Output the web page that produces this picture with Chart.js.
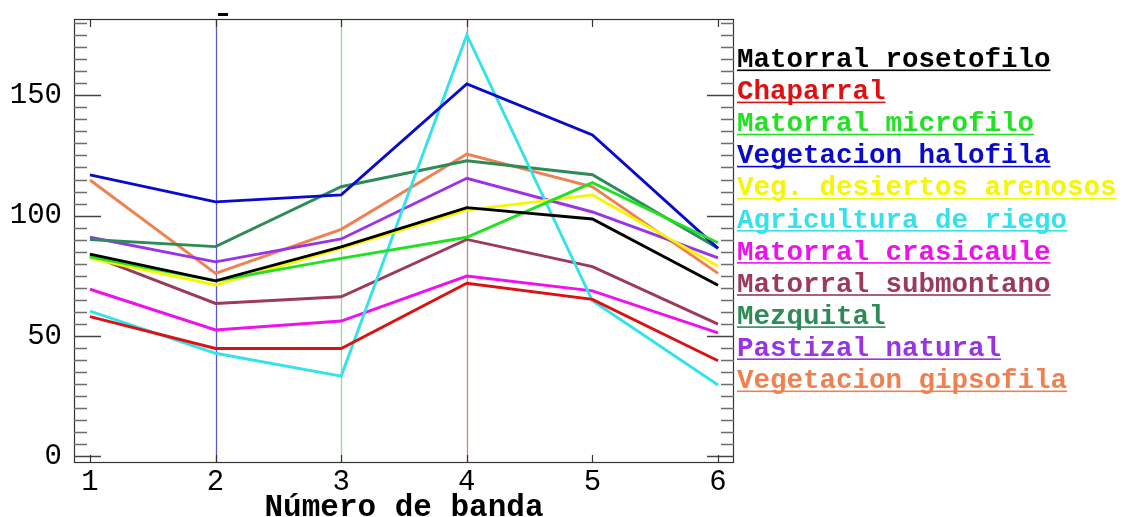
<!DOCTYPE html>
<html>
<head>
<meta charset="utf-8">
<script src="https://cdn.jsdelivr.net/npm/chart.js"></script>
<style>
  html, body { margin: 0; padding: 0; background: #fff; overflow: hidden; }
  #wrap { width: 1127px; height: 517px; position: relative; }
</style>
</head>
<body>
<div id="wrap"><canvas id="chart" width="1127" height="517"></canvas></div>
<script>
// bands on the x axis
const bands = [1, 2, 3, 4, 5, 6];

// one array per land cover class
const rosetofilo  = [84.0, 72.9, 87.0, 103.3, 98.6, 71.1];
const chaparral   = [58.0, 44.8, 44.8, 71.9, 65.2, 39.7];
const microfilo   = [82.9, 72.9, 82.2, 91.0, 113.7, 88.7];
const halofila    = [116.9, 105.7, 108.6, 154.7, 133.5, 86.4];
const arenosos    = [82.2, 71.2, 86.4, 102.3, 108.6, 79.0];
const riego       = [60.3, 42.8, 33.3, 175.1, 64.6, 29.6];
const crasicaule  = [69.4, 52.5, 56.2, 74.9, 68.7, 51.3];
const submontano  = [83.6, 63.5, 66.3, 90.1, 78.8, 54.9];
const mezquital   = [90.1, 87.1, 112.0, 122.8, 117.0, 86.4];
const pastizal    = [91.0, 80.8, 90.3, 115.5, 101.5, 82.4];
const gipsofila   = [114.8, 76.0, 94.3, 125.6, 112.0, 76.0];

const classNames = [
  'Matorral rosetofilo', 'Chaparral', 'Matorral microfilo', 'Vegetacion halofila',
  'Veg. desiertos arenosos', 'Agricultura de riego', 'Matorral crasicaule',
  'Matorral submontano', 'Mezquital', 'Pastizal natural', 'Vegetacion gipsofila'
];
const classValues = [rosetofilo, chaparral, microfilo, halofila, arenosos, riego,
  crasicaule, submontano, mezquital, pastizal, gipsofila];
const classColors = ['#000000', '#dd1111', '#22e022', '#0a0acc', '#f6f600', '#33e2ea',
  '#ee11ee', '#9b3a5a', '#2e8b57', '#9933e6', '#f0804f'];

const yTickLabels = [0, 50, 100, 150];
const yMinorStep = 5;
const yMinorTop = 180;
const markerBands = [2, 3, 4];
const markerColors = ['#5a5ac8', '#8ce08c', '#e07a7a'];

const datasets = classNames.map((name, i) => ({
  label: name,
  data: bands.map((b, j) => ({ x: b, y: classValues[i][j] })),
  borderColor: classColors[i],
  backgroundColor: classColors[i],
  borderWidth: 2.9,
  pointRadius: 0,
  tension: 0,
  fill: false
}));

const decorations = {
  id: 'decorations',
  beforeDatasetsDraw(chart) {
    const { ctx, chartArea: a, scales: { x } } = chart;
    ctx.save();
    markerBands.forEach((b, i) => {
      const px = Math.round(x.getPixelForValue(b)) + 0.5;
      ctx.strokeStyle = markerColors[i];
      ctx.lineWidth = 1.3;
      ctx.beginPath();
      ctx.moveTo(px, a.top);
      ctx.lineTo(px, a.bottom);
      ctx.stroke();
    });
    ctx.restore();
  },
  afterDatasetsDraw(chart) {
    const { ctx, chartArea: a, scales: { x, y } } = chart;
    ctx.save();
    // frame
    ctx.strokeStyle = '#333';
    ctx.lineWidth = 1.2;
    ctx.strokeRect(a.left + 0.5, a.top + 0.5, a.right - a.left - 1, a.bottom - a.top - 1);
    // y ticks, inward on both sides
    y.ticks.forEach(t => {
      const py = Math.round(y.getPixelForValue(t.value)) + 0.5;
      const major = yTickLabels.includes(t.value);
      const len = major ? 27 : 13;
      ctx.strokeStyle = major ? '#444' : '#6e6e6e';
      ctx.lineWidth = 1.4;
      ctx.beginPath();
      ctx.moveTo(a.left, py); ctx.lineTo(a.left + len, py);
      ctx.moveTo(a.right, py); ctx.lineTo(a.right - len, py);
      ctx.stroke();
    });
    // x ticks
    bands.forEach(b => {
      const px = Math.round(x.getPixelForValue(b)) + 0.5;
      ctx.strokeStyle = '#333';
      ctx.lineWidth = 1.2;
      ctx.beginPath();
      ctx.moveTo(px, a.bottom); ctx.lineTo(px, a.bottom - 8);
      ctx.moveTo(px, a.top); ctx.lineTo(px, a.top + 8);
      ctx.stroke();
    });
    // leftover title stub above the plot
    ctx.fillStyle = '#000';
    ctx.fillRect(218, 13, 10, 3);
    ctx.restore();
  },
  afterDraw(chart) {
    const { ctx } = chart;
    ctx.save();
    ctx.font = 'bold 27.5px "Liberation Mono", "Courier New", monospace';
    ctx.textBaseline = 'alphabetic';
    chart.data.datasets.forEach((ds, i) => {
      const ty = 67 + i * 32.1;
      ctx.fillStyle = ds.borderColor;
      ctx.fillText(ds.label, 737, ty);
      const w = ctx.measureText(ds.label).width;
      ctx.fillRect(737, ty + 2.5, w, 1.6);
    });
    ctx.restore();
  }
};

new Chart(document.getElementById('chart'), {
  type: 'line',
  data: { datasets },
  plugins: [decorations],
  options: {
    responsive: false,
    animation: false,
    devicePixelRatio: 1,
    layout: { padding: { left: 0, top: 19, right: 393, bottom: 0 } },
    plugins: { legend: { display: false }, tooltip: { enabled: false } },
    scales: {
      x: {
        type: 'linear',
        min: 0.873,
        max: 6.127,
        grid: { display: false, drawTicks: false },
        border: { display: false },
        afterBuildTicks: s => { s.ticks = bands.map(v => ({ value: v })); },
        afterFit: s => { s.height = 54; },
        ticks: {
          padding: 5,
          color: '#000',
          font: { family: '"Liberation Mono", monospace', size: 29, lineHeight: 1 },
          callback: v => String(v)
        },
        title: {
          display: true,
          text: 'Número de banda',
          color: '#000',
          font: { family: '"Liberation Mono", monospace', size: 31, weight: 'bold', lineHeight: 0.6 },
          padding: { top: 0, bottom: 0 }
        }
      },
      y: {
        type: 'linear',
        min: -2.8,
        max: 181.7,
        grid: { display: false, drawTicks: false },
        border: { display: false },
        afterBuildTicks: s => {
          const ticks = [];
          for (let v = 0; v <= yMinorTop; v += yMinorStep) ticks.push({ value: v });
          s.ticks = ticks;
        },
        afterFit: s => { s.width = 74; },
        ticks: {
          autoSkip: false,
          padding: 12,
          color: '#000',
          font: { family: '"Liberation Mono", monospace', size: 29, lineHeight: 0.4 },
          callback: v => (yTickLabels.includes(v) ? String(v) : '')
        }
      }
    }
  }
});
</script>
</body>
</html>
